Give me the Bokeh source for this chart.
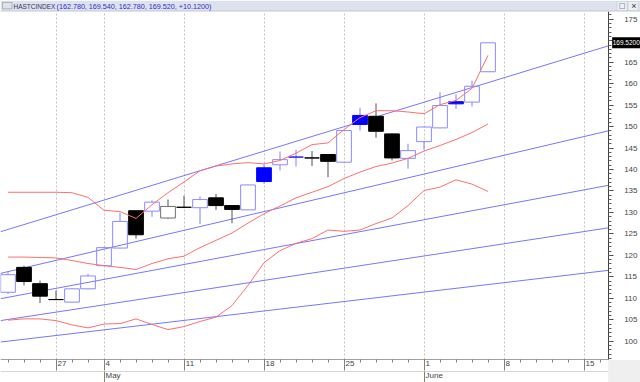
from bokeh.plotting import figure
from bokeh.models import (Range1d, LinearAxis, FixedTicker, ColumnDataSource, Label,
                          BoxAnnotation, Span, CustomJSTickFormatter)
from bokeh.embed import file_html
from bokeh.resources import INLINE

# ---------------- data (trading-day index 0 = Apr 22) ----------------
day = list(range(31))
opens = [111.4, 117.2, 113.4, 109.7, 109.1, 112.2, 117.6, 121.7, 130.4, 130.3,
         128.7, 131.2, 131.1, 133.4, 131.6, 130.6, 140.4, 141.1, 142.9, 142.7,
         143.5, 141.7, 152.6, 152.4, 148.3, 142.6, 146.5, 149.7, 155.8, 155.7, 162.78]
highs = [116.1, 117.6, 114.1, 111.8, 112.3, 115.7, 122.0, 129.9, 130.5, 132.8,
         133.0, 133.9, 133.7, 134.3, 131.7, 136.5, 141.2, 144.2, 144.6, 144.3,
         143.6, 149.2, 154.4, 155.4, 148.4, 146.0, 150.0, 158.0, 157.5, 160.7, 169.54]
lows = [111.0, 113.0, 108.9, 109.6, 109.0, 112.1, 117.5, 121.6, 123.9, 129.0,
        128.5, 131.0, 127.3, 130.6, 127.5, 130.5, 136.7, 139.8, 140.7, 140.8,
        138.2, 141.6, 149.1, 147.4, 142.1, 140.2, 144.6, 149.6, 154.1, 154.7, 162.78]
closes = [115.5, 113.9, 110.5, 109.7, 112.2, 115.2, 121.8, 127.9, 124.8, 132.4,
          131.4, 131.2, 133.0, 131.6, 130.7, 136.4, 137.2, 142.3, 142.9, 142.7,
          141.9, 149.1, 150.5, 148.9, 142.7, 144.4, 149.9, 154.9, 155.3, 159.4, 169.52]

# Bollinger bands (upper / middle / lower)
bb_upper = [134.7, 134.7, 134.7, 134.7, 134.6, 133.5, 130.5, 130.2, 128.6, 131.8,
            134.6, 137.1, 139.7, 140.8, 141.3, 141.6, 141.3, 142.1, 143.8, 145.8,
            146.2, 149.3, 152.1, 153.7, 153.7, 153.4, 153.0, 155.1, 156.1, 158.9, 166.6]
bb_middle = [119.6, 119.6, 119.5, 119.4, 118.8, 118.1, 117.6, 117.2, 116.7, 118.1,
             119.2, 119.8, 121.8, 123.5, 125.2, 127.5, 129.7, 131.5, 133.4, 134.7,
             136.0, 137.9, 139.4, 140.7, 141.5, 142.6, 144.3, 145.6, 147.0, 148.6, 150.6]
bb_lower = [104.9, 105.2, 105.2, 104.8, 103.8, 103.1, 104.0, 104.1, 105.2, 103.9,
            102.7, 103.4, 104.6, 105.6, 108.3, 113.0, 118.3, 121.1, 122.8, 123.9,
            125.9, 125.6, 125.9, 127.4, 128.7, 131.6, 135.1, 135.9, 137.6, 136.6, 134.9]

# fan / channel lines: value at left edge and at right edge of the chart
fan_start = [125.5, 115.8, 109.9, 104.8, 99.8]
fan_end = [168.8, 149.0, 136.3, 126.4, 116.5]

# axis labels
week_ticks = [3, 6, 11, 16, 21, 26, 31, 36]
week_labels = ["27", "4", "11", "18", "25", "1", "8", "15"]
month_ticks = [6, 26]
month_labels = ["May", "June"]
price_ticks = list(range(100, 180, 5))
symbol = "HASTCINDEX"

# ---------------- layout constants ----------------
W, H = 640, 382
X0, X1 = -0.469, 37.51          # chart area (left edge .. price axis)
Y0, Y1 = 95.62, 176.93          # chart area (bottom .. top, below the header)
PXD = 16.0                      # px per trading day
PYU = 4.292                     # px per price unit
XR = X0 + W / PXD               # canvas right edge
YT = Y1 + 10.5 / PYU            # canvas top edge
YB = Y0 - 22.5 / PYU            # canvas bottom edge
FONT = "Liberation Sans"
GREY = "#444444"

p = figure(width=W, height=H, x_range=Range1d(X0, XR), y_range=Range1d(YB, YT),
           output_backend="svg", toolbar_location=None, y_axis_location="right",
           x_axis_location="below", min_border=0, min_border_left=0, min_border_right=0,
           min_border_top=0, min_border_bottom=0)
p.outline_line_color = None
p.background_fill_color = "white"
p.border_fill_color = "white"
p.ygrid.visible = False
p.xgrid.grid_line_color = "#c4c4c4"
p.xgrid.grid_line_dash = "2 2"
try:
    p.xgrid.cross_bounds = (Y0, Y1)
except Exception:
    pass

# header band and bottom-right corner
p.add_layout(BoxAnnotation(bottom=Y1, fill_color="#dde2ec", fill_alpha=1, line_color=None))
p.add_layout(Span(location=Y1, dimension="width", line_color="#c2c8d4", line_width=1))
p.add_layout(BoxAnnotation(left=X1, top=Y0, fill_color="#efefef", fill_alpha=1, line_color=None))

# right price axis, pinned at the chart's right edge
yax = p.yaxis[0]
yax.fixed_location = X1
yax.bounds = (Y0, Y1)
yax.ticker = FixedTicker(ticks=price_ticks, minor_ticks=list(range(96, 177)))
yax.major_tick_out = 5
yax.major_tick_in = 0
yax.minor_tick_out = 3
yax.minor_tick_in = 0
yax.axis_line_color = "#404040"
yax.major_tick_line_color = "#404040"
yax.minor_tick_line_color = "#606060"
yax.major_label_text_font = FONT
yax.major_label_text_font_size = "8px"
yax.major_label_text_color = GREY
yax.major_label_standoff = 11

# day tick axis
blank = CustomJSTickFormatter(code="return ''")
xax = p.xaxis[0]
xax.fixed_location = Y0
xax.bounds = (X0, X1)
xax.ticker = FixedTicker(ticks=week_ticks, minor_ticks=list(range(0, 38)))
xax.formatter = blank
xax.major_label_text_font_size = "0px"
xax.major_label_standoff = 0
xax.major_tick_out = 11
xax.major_tick_in = 0
xax.minor_tick_out = 3
xax.minor_tick_in = 0
xax.axis_line_color = "#a0a0a0"
xax.major_tick_line_color = "#808080"
xax.minor_tick_line_color = "#808080"

# month separator row with month ticks
mline = LinearAxis(fixed_location=Y0 - 11.2 / PYU, bounds=(X0, X1),
                   ticker=FixedTicker(ticks=month_ticks, minor_ticks=[]), formatter=blank)
mline.major_label_text_font_size = "0px"
mline.major_label_standoff = 0
mline.major_tick_out = 12
mline.major_tick_in = 0
mline.axis_line_color = "#d6d6d6"
mline.major_tick_line_color = "#808080"
p.add_layout(mline, "below")

# tick labels, written just right of their tick (Arial-metric widths)
CW = {"M": .833, "a": .556, "y": .5, "J": .5, "u": .556, "n": .556, "e": .556}


def text_px(s, size=8):
    return sum(CW.get(ch, .556) for ch in s) * size


def label_axis(ticks, labels, standoff):
    pos = [t + (text_px(s) / 2 + 1.5) / PXD for t, s in zip(ticks, labels)]
    fmt = CustomJSTickFormatter(args=dict(pos=pos, labels=labels), code="""
        let best = 0, d = 1e9;
        for (let i = 0; i < pos.length; i++) {
            const e = Math.abs(pos[i] - tick);
            if (e < d) { d = e; best = i; }
        }
        return labels[best];""")
    ax = LinearAxis(fixed_location=Y0, ticker=FixedTicker(ticks=pos, minor_ticks=[]), formatter=fmt)
    ax.axis_line_color = None
    ax.major_tick_line_color = None
    ax.minor_tick_line_color = None
    ax.major_tick_out = 0
    ax.minor_tick_out = 0
    ax.major_label_standoff = standoff
    ax.major_label_text_font = FONT
    ax.major_label_text_font_size = "8px"
    ax.major_label_text_color = GREY
    p.add_layout(ax, "below")


label_axis(week_ticks, week_labels, 1)
label_axis(month_ticks, month_labels, 11)

# ---------------- fan lines ----------------
p.segment(x0=[X0] * len(fan_start), y0=fan_start, x1=[X1] * len(fan_end), y1=fan_end,
          line_color="#7676ff", line_width=1)

# ---------------- candles ----------------
prev = [None] + closes[:-1]
fill, line, wick = [], [], []
for o, c, pc in zip(opens, closes, prev):
    up = pc is None or c >= pc
    if c == o:
        fill.append(None)
        line.append("#2020ff" if up else "black")
    elif c > o:
        fill.append(None)
        line.append("#8a8aff" if up else "#707070")
    else:
        fill.append("#0000ff" if up else "black")
        line.append("#0000ff" if up else "black")
    wick.append("#8080ff" if up else "#505050")

src = ColumnDataSource(dict(
    x=day,
    top=[max(o, c) for o, c in zip(opens, closes)],
    bottom=[min(o, c) for o, c in zip(opens, closes)],
    high=highs, low=lows, fill=fill, line=line, wick=wick))

p.segment(x0="x", y0="high", x1="x", y1="top", line_color="wick", source=src)
p.segment(x0="x", y0="bottom", x1="x", y1="low", line_color="wick", source=src)
p.vbar(x="x", width=0.92, top="top", bottom="bottom", fill_color="fill",
       line_color="line", line_width=1, source=src)

# ---------------- Bollinger bands ----------------
for band in (bb_upper, bb_middle, bb_lower):
    p.line(day, band, line_color="#ff6e6e", line_width=1)

# last-price tag on the axis
p.add_layout(BoxAnnotation(left=X1 + 4 / PXD, right=XR, bottom=closes[-1] - 5.5 / PYU,
                           top=closes[-1] + 5.5 / PYU, fill_color="black", fill_alpha=1,
                           line_color=None))
p.add_layout(Label(x=X1, y=closes[-1], x_offset=4.5, text=f"{closes[-1]:.4f}",
                   text_baseline="middle", text_color="white",
                   text_font=FONT, text_font_size="6.5px"))

# header: icon, symbol and last bar values
p.add_layout(BoxAnnotation(left=X0 + 2 / PXD, right=X0 + 11.5 / PXD, bottom=Y1 + 2.2 / PYU,
                           top=Y1 + 8.6 / PYU, fill_color=None, line_color="#404040", line_width=1))
p.add_layout(Label(x=X0, y=Y1, x_offset=13, y_offset=4.7, text=symbol, text_baseline="middle",
                   text_font=FONT, text_font_size="6.5px", text_color="#333366"))
chg = closes[-1] - closes[-2]
p.add_layout(Label(x=X0, y=Y1, x_offset=56, y_offset=4.7,
                   text=f"({opens[-1]:.3f}, {highs[-1]:.3f}, {lows[-1]:.3f}, {closes[-1]:.3f}, {chg:+.4f})",
                   text_baseline="middle", text_font=FONT, text_font_size="7.2px",
                   text_color="#2a2ad0"))

# window buttons in the header's right corner
for k in range(2):
    p.add_layout(BoxAnnotation(left=X1 + (9 + 11 * k) / PXD, right=X1 + (19 + 11 * k) / PXD,
                               bottom=Y1 + 0.5 / PYU, top=Y1 + 9.5 / PYU, fill_color="#eef0f4",
                               fill_alpha=1, line_color="#a8b0bc", line_width=1))
p.add_layout(BoxAnnotation(left=X1 + 11.5 / PXD, right=X1 + 16.5 / PXD, bottom=Y1 + 2.5 / PYU,
                           top=Y1 + 7.5 / PYU, fill_color=None, line_color="#303030", line_width=1))
p.add_layout(Label(x=X1, y=Y1, x_offset=23, y_offset=5, text="×", text_baseline="middle",
                   text_font=FONT, text_font_size="9px", text_color="#303030"))

open("out.html", "w").write(file_html(p, INLINE))
